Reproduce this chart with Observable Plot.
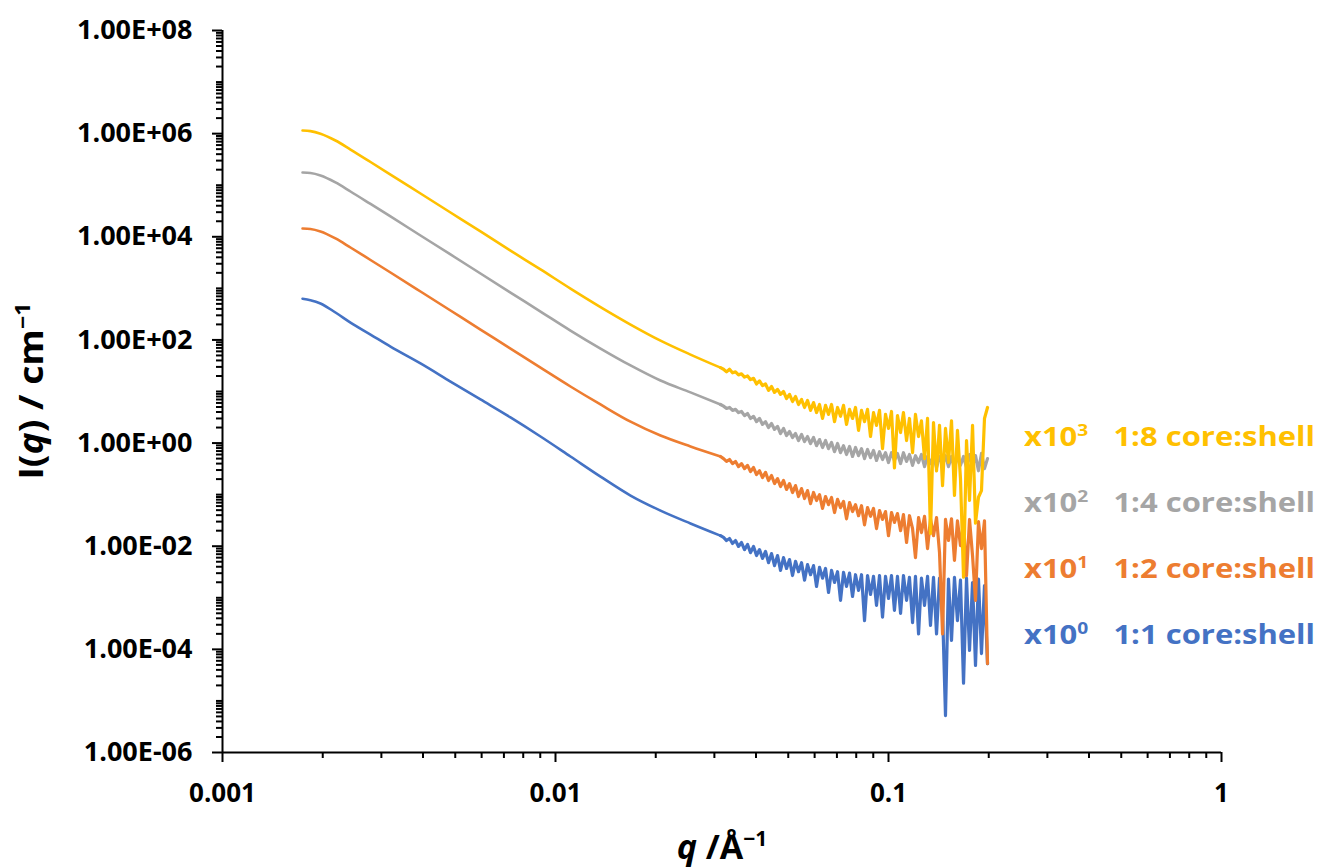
<!DOCTYPE html>
<html><head><meta charset="utf-8">
<script src="https://cdn.jsdelivr.net/npm/d3@7"></script>
<script src="https://cdn.jsdelivr.net/npm/@observablehq/plot@0.6"></script>
<style>
html,body{margin:0;padding:0;background:#fff;}
#wrap{position:relative;width:1320px;height:868px;font-family:'Open Sans',sans-serif;}
.lab{position:absolute;font-weight:700;white-space:nowrap;line-height:1;}
.lab sup{font-size:0.62em;vertical-align:0.6em;line-height:0;}
.gap{display:inline-block;width:0.55em;}
</style></head><body><div id="wrap"></div>
<script>
// q values (Å^-1), shared by all four series
const q = [0.001739,0.001837,0.001969,0.002184,0.002423,0.002783,0.003195,0.003932,0.004838,0.005953,0.007325,0.009016,0.01109,0.01365,0.01680,0.02067,0.02543,0.03130,
0.03196,0.03263,0.03331,0.03401,0.03472,0.03545,0.03619,0.03695,0.03773,0.03852,
0.03933,0.04015,0.04099,0.04185,0.04273,0.04362,0.04454,0.04547,0.04643,0.04740,
0.04839,0.04941,0.05044,0.05150,0.05258,0.05368,0.05481,0.05596,0.05713,0.05833,
0.05955,0.06080,0.06207,0.06337,0.06470,0.06606,0.06744,0.06885,0.07030,0.07177,
0.07327,0.07481,0.07638,0.07798,0.07961,0.08128,0.08298,0.08472,0.08650,0.08831,
0.09016,0.09205,0.09398,0.09595,0.09796,0.1000,0.1021,0.1042,0.1064,0.1087,
0.1109,0.1133,0.1156,0.1181,0.1205,0.1231,0.1256,0.1283,0.1310,0.1337,
0.1365,0.1394,0.1423,0.1453,0.1483,0.1514,0.1546,0.1578,0.1611,0.1645,
0.1680,0.1715,0.1751,0.1788,0.1825,0.1863,0.1902,0.1942,0.1983];

// I(q) / cm^-1, 1:1 core:shell (x10^0)
const I_1to1 = [6.3e2,5.9e2,5.1e2,3.4e2,2.17e2,1.27e2,74,35,15.6,7.0,3.14,1.34,0.55,0.224,0.096,0.049,0.0276,0.016,
0.0148,0.0129,0.0141,0.0113,0.0129,0.0099,0.0118,0.0086,0.0108,0.0075,
0.0099,0.0066,0.0086,0.0058,0.0079,0.0048,0.0072,0.0042,0.0066,0.0034,
0.0060,0.0037,0.0055,0.0027,0.0051,0.0032,0.0048,0.0022,0.0044,0.0028,
0.0042,0.00166,0.0039,0.0024,0.0037,0.00127,0.0034,0.00198,0.0032,0.00089,
0.0031,0.00166,0.0030,0.00106,0.0028,0.00139,0.0028,0.00036,0.0027,0.00116,
0.0026,0.00071,0.0027,0.00042,0.0026,0.00097,0.0027,0.00057,0.0026,0.00050,
0.0027,0.00089,0.0025,0.00033,0.0026,0.00020,0.0024,0.00071,0.0026,0.00029,
0.0025,0.00020,0.0024,0.00057,0.0000052,0.0023,0.000149,0.0025,0.00036,0.0022,
0.000022,0.0024,0.000095,0.00198,0.000049,0.0023,0.000083,0.00173,0.000053];

// 1:2 core:shell (x10^1)
const I_1to2 = [1.45e4,1.42e4,1.27e4,9.3e3,6.2e3,3.55e3,2.03e3,8.7e2,3.72e2,1.59e2,68,29,12.5,5.6,2.6,1.40,0.86,0.55,
0.50,0.44,0.48,0.40,0.44,0.35,0.40,0.32,0.37,0.28,
0.335,0.245,0.29,0.215,0.27,0.188,0.235,0.164,0.205,0.144,
0.188,0.126,0.164,0.110,0.150,0.092,0.131,0.084,0.120,0.067,
0.110,0.077,0.100,0.054,0.092,0.064,0.088,0.045,0.081,0.056,
0.074,0.034,0.070,0.047,0.064,0.039,0.061,0.026,0.056,0.038,
0.054,0.022,0.049,0.033,0.047,0.016,0.045,0.029,0.043,0.020,
0.041,0.0118,0.039,0.022,0.0060,0.036,0.0184,0.038,0.0090,0.034,
0.016,0.036,0.0075,0.00020,0.033,0.0129,0.034,0.0053,0.031,0.0103,
0.029,0.0027,0.033,0.0066,0.00089,0.030,0.0090,0.031,0.000053];

// 1:4 core:shell (x10^2)
const I_1to4 = [1.76e5,1.72e5,1.54e5,1.13e5,7.55e4,4.33e4,2.48e4,1.06e4,4.54e3,1.94e3,8.3e2,3.55e2,1.52e2,68,32,16.3,9.6,5.6,
5.2,4.7,4.9,4.3,4.5,3.9,4.1,3.4,3.75,3.0,
3.3,2.6,3.0,2.3,2.6,2.0,2.4,1.84,2.1,1.53,
1.92,1.40,1.68,1.28,1.53,1.12,1.47,1.07,1.34,0.98,
1.28,0.89,1.17,0.82,1.12,0.78,1.03,0.68,0.98,0.65,
0.89,0.60,0.86,0.55,0.82,0.57,0.78,0.50,0.75,0.52,
0.72,0.46,0.68,0.48,0.65,0.42,0.65,0.46,0.63,0.40,
0.65,0.44,0.60,0.37,0.57,0.42,0.60,0.35,0.55,0.40,
0.57,0.335,0.55,0.38,0.57,0.35,0.55,0.32,0.57,0.37,
0.55,0.335,0.60,0.35,0.57,0.29,0.63,0.32,0.50];

// 1:8 core:shell (x10^3)
const I_1to8 = [1.15e6,1.12e6,1.0e6,7.36e5,4.92e5,2.82e5,1.61e5,6.9e4,2.96e4,1.27e4,5.4e3,2.33e3,9.9e2,4.34e2,1.99e2,97,52,29,
27,24,27,23,24,21,22,19,20,17,
18,14,16,13,14,10.5,12.5,9.6,11,8.8,
10,7.3,8.8,6.4,8.0,5.6,7.0,4.9,6.7,4.3,
6.1,3.9,5.6,3.0,5.4,3.6,5.6,2.6,4.9,3.3,
5.4,2.3,4.5,3.0,4.9,1.76,4.3,2.6,4.5,1.34,
3.9,2.2,4.3,0.78,3.6,1.92,4.1,0.33,3.4,1.6,
3.9,1.12,3.0,0.65,3.6,1.34,2.7,0.50,3.0,0.0176,
2.5,0.29,2.2,0.15,1.92,0.42,2.7,0.097,1.76,0.205,
0.0025,1.12,0.077,2.2,0.028,0.089,0.12,3.0,4.9];

const seriesNames = ["1:1 core:shell","1:2 core:shell","1:4 core:shell","1:8 core:shell"];
const seriesFactors = ["0","1","2","3"];
const seriesColors = ["#4472C4","#ED7D31","#A5A5A5","#FFC000"];
const seriesValues = [I_1to1, I_1to2, I_1to4, I_1to8];

const xDomain = [0.001, 1];
const yDomain = [1e-6, 1e8];
const xTicks = [0.001, 0.01, 0.1, 1];
const xTickLabels = ["0.001","0.01","0.1","1"];
const yTicks = [1e8, 1e6, 1e4, 1e2, 1, 1e-2, 1e-4, 1e-6];
const yTickLabels = ["1.00E+08","1.00E+06","1.00E+04","1.00E+02","1.00E+00","1.00E-02","1.00E-04","1.00E-06"];

// minor ticks on the log axes
const xMinor = [];
for (let e = -3; e < 0; e++) for (let m = 2; m <= 9; m++) xMinor.push(+(m * Math.pow(10, e)).toPrecision(3));
const yMinor = [];
for (let e = -6; e < 8; e++) for (let m = 1; m <= 9; m++) if (!(m === 1 && e % 2 === 0)) yMinor.push(+(m * Math.pow(10, e)).toPrecision(3));

// the low-q part is smooth, the high-q part is noisy (drawn point to point)
const smoothCount = 18;
const idxSmooth = d3.range(0, smoothCount);
const idxNoisy = d3.range(smoothCount - 1, q.length);

const font = "'Open Sans', sans-serif";
const lineMarks = [];
seriesValues.forEach((vals, i) => {
  lineMarks.push(Plot.line(idxSmooth, {x: j => q[j], y: j => vals[j], stroke: seriesColors[i], strokeWidth: 2.6, curve: "monotone-x"}));
  lineMarks.push(Plot.line(idxNoisy, {x: j => q[j], y: j => vals[j], stroke: seriesColors[i], strokeWidth: 3.2, curve: "linear", strokeLinejoin: "round"}));
});

const chart = Plot.plot({
  width: 1320, height: 868,
  marginLeft: 222, marginRight: 99, marginTop: 30, marginBottom: 116,
  style: {fontFamily: font, color: "#000", background: "#fff", overflow: "visible"},
  x: {type: "log", domain: xDomain},
  y: {type: "log", domain: yDomain},
  marks: [
    Plot.axisY({ticks: yMinor, tickSize: 6, tickFormat: () => "", strokeWidth: 2, label: null}),
    Plot.axisY({ticks: yTicks, tickSize: 10, tickPadding: 20, strokeWidth: 2, label: null,
      tickFormat: d => yTickLabels[yTicks.indexOf(d)], fontSize: 27, fontWeight: "bold", fontFamily: font}),
    Plot.axisX({ticks: xMinor, tickSize: 6, tickFormat: () => "", strokeWidth: 2, label: null}),
    Plot.axisX({ticks: xTicks, tickSize: 10, tickPadding: 21, strokeWidth: 2, label: null,
      tickFormat: d => xTickLabels[xTicks.indexOf(d)], fontSize: 26, fontWeight: "bold", fontFamily: font}),
    ...lineMarks,
    Plot.ruleX([xDomain[0]], {stroke: "#000", strokeWidth: 2}),
    Plot.ruleY([yDomain[0]], {stroke: "#000", strokeWidth: 2})
  ]
});

const wrap = document.getElementById("wrap");
wrap.appendChild(chart);

function addLabel(html, css) {
  const d = document.createElement("div");
  d.className = "lab";
  d.innerHTML = html;
  Object.assign(d.style, css);
  wrap.appendChild(d);
  return d;
}
// axis titles
const yt = addLabel("I(<i>q</i>) / cm<sup>\u22121</sup>", {left: "30px", top: "391px", fontSize: "34px"});
{
  const w = yt.getBoundingClientRect().width;
  yt.style.transformOrigin = "50% 50%";
  yt.style.transform = "translate(-50%,-50%) rotate(-90deg) scaleX(" + (177 / w) + ")";
}
addLabel("<i>q</i> /\u00C5<sup>\u22121</sup>", {left: "722px", top: "846px", fontSize: "34px", transform: "translate(-50%,-50%)"});
// series labels (top to bottom: 1:8, 1:4, 1:2, 1:1)
const labelTops = [621, 555, 489, 423];
seriesNames.forEach((name, i) => {
  const d = addLabel("x10<sup>" + seriesFactors[i] + "</sup><span class='gap'></span> " + name,
    {left: "1024px", top: labelTops[i] + "px", fontSize: "26px", color: seriesColors[i], transformOrigin: "0 50%"});
  const w = d.getBoundingClientRect().width;
  d.style.transform = "scaleX(" + (291 / w) + ")";
});
</script></body></html>
